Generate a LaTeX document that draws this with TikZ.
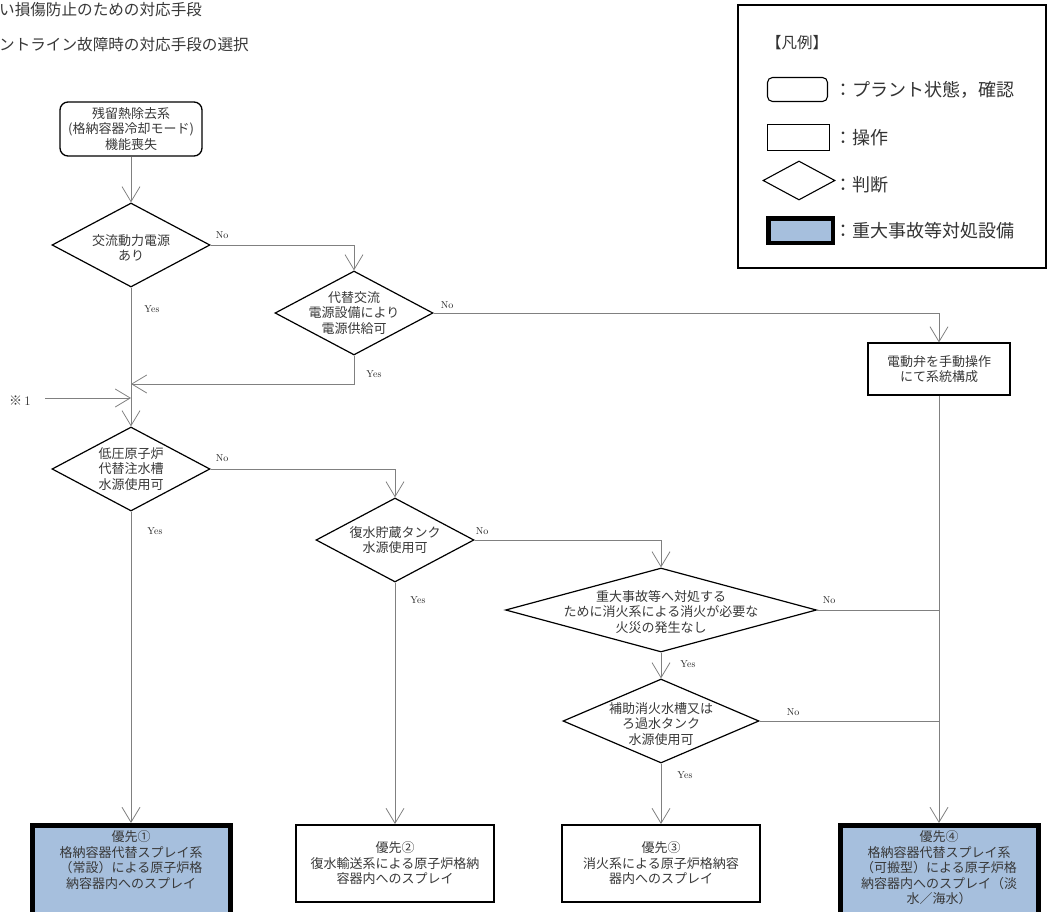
\documentclass[tikz,border=0pt]{standalone}
\usepackage{fontspec}
\newfontfamily\jpfont{Noto Sans CJK JP}
\usetikzlibrary{arrows.meta,shapes.geometric,calc}
\definecolor{safetyblue}{RGB}{166,191,221}
\definecolor{flowgray}{RGB}{128,128,128}

\begin{document}
\begin{tikzpicture}[x=1pt,y=-1pt,
  jp/.style={font=\jpfont\fontsize{13}{15.5}\selectfont,text=black!78,align=center},
  hdr/.style={font=\jpfont\fontsize{15.6}{17}\selectfont,text=black!78,inner sep=0pt,anchor=west},
  lgtext/.style={font=\jpfont\fontsize{18}{20}\selectfont,text=black!80,inner sep=0pt,anchor=west},
  startbox/.style={jp,draw,line width=1.3pt,rounded corners=8pt,minimum width=142pt,minimum height=54pt,inner sep=0pt},
  opbox/.style={jp,draw,line width=1.1pt,minimum width=142pt,minimum height=52pt,inner sep=0pt},
  decide/.style={diamond,draw,line width=1.2pt,inner sep=0pt,minimum width=#1,minimum height=84pt},
  prio/.style={jp,draw,line width=2.4pt,minimum width=197.5pt,minimum height=76.5pt,inner sep=0pt},
  sabox/.style={jp,draw,fill=safetyblue,line width=5pt,minimum width=198pt,inner xsep=0pt,inner ysep=5pt,anchor=north},
  flow/.style={draw=flowgray,line width=0.9pt},
  arr/.style={flow,-{Straight Barb[length=15pt,width=18pt,line width=0.8pt]}},
  yn/.style={font=\fontsize{10}{11}\selectfont,text=black!85,inner sep=0pt},
]
  \useasboundingbox (0,0) rectangle (1049,912);

  % page headings (cut at the left edge)
  \node[hdr] (title1) at (-1,10) {い損傷防止のための対応手段};
  \node[hdr] (title2) at (-1,45) {ントライン故障時の対応手段の選択};

  % legend
  \draw[line width=1.1pt] (738,5) rectangle (1046,268);
  \node[font=\jpfont\fontsize{15.5}{17}\selectfont,text=black!80,inner sep=0pt,anchor=west] (lgtitle) at (766,43) {【凡例】};
  \node[draw,line width=1.1pt,rounded corners=5pt,minimum width=60pt,minimum height=24pt] (lgstate) at (797.5,89.5) {};
  \node[lgtext] (lgstatetxt) at (834,90) {：プラント状態，確認};
  \node[draw,line width=1.1pt,minimum width=62pt,minimum height=26pt] (lgop) at (798.5,137.5) {};
  \node[lgtext] (lgoptxt) at (834,138) {：操作};
  \node[diamond,draw,line width=1.1pt,inner sep=0pt,minimum width=72pt,minimum height=39pt] (lgdec) at (799,180.5) {};
  \node[lgtext] (lgdectxt) at (834,185) {：判断};
  \node[draw,fill=safetyblue,line width=4.5pt,minimum width=64.5pt,minimum height=24.5pt] (lgsa) at (800.5,230.5) {};
  \node[lgtext] (lgsatxt) at (834,231) {：重大事故等対処設備};

  % flow
  \node[startbox] (start) at (131,129) {残留熱除去系\\(格納容器冷却モード)\\機能喪失};
  \node[decide=158pt,label={[jp,yshift=-3pt]center:交流動力電源\\あり}] (d1) at (131,245) {};
  \node[decide=158pt,label={[jp]center:代替交流\\電源設備により\\電源供給可}] (d2) at (354,313) {};
  \node[decide=158pt,label={[jp]center:低圧原子炉\\代替注水槽\\水源使用可}] (d3) at (131,469) {};
  \node[decide=158pt,label={[jp]center:復水貯蔵タンク\\水源使用可}] (d4) at (395,540) {};
  \node[decide=311pt,label={[jp,yshift=-2pt]center:重大事故等へ対処する\\ために消火系による消火が必要な\\火災の発生なし}] (d5) at (661,610) {};
  \node[decide=196pt,label={[jp,yshift=-3pt]center:補助消火水槽又は\\ろ過水タンク\\水源使用可}] (d6) at (661,721) {};
  \node[opbox] (mov) at (939,369) {電動弁を手動操作\\にて系統構成};

  \node[sabox] (p1) at (131,823) {\parbox[t][100pt][t]{190pt}{\centering 優先①\\格納容器代替スプレイ系\\（常設）による原子炉格\\納容器内へのスプレイ}};
  \node[prio] (p2) at (395,863.5) {優先②\\復水輸送系による原子炉格納\\容器内へのスプレイ};
  \node[prio] (p3) at (661,863.5) {優先③\\消火系による原子炉格納容\\器内へのスプレイ};
  \node[sabox] (p4) at (939,823) {\parbox[t][100pt][t]{190pt}{\centering 優先④\\格納容器代替スプレイ系\\（可搬型）による原子炉格\\納容器内へのスプレイ（淡\\水／海水）}};

  \node[font=\fontsize{13}{15}\selectfont,text=black!80,inner sep=0pt,anchor=west] (ref1) at (9,401) {{\jpfont ※}\,1};
  \coordinate (ref1end) at (45,398);
  \coordinate (join) at (131,384);

  \draw[arr] (start.south) -- (d1.north);
  \draw[arr] (d1.east) -| (d2.north);
  \draw[arr] (d2.east) -| (mov.north);
  \draw[arr] (d2.south) |- (join);
  \draw[arr] (ref1end) -- (ref1end -| d1.south);
  \draw[arr] (d1.south) -- (d3.north);
  \draw[arr] (d3.east) -| (d4.north);
  \draw[arr] (d3.south) -- (p1.north);
  \draw[arr] (d4.east) -| (d5.north);
  \draw[arr] (d4.south) -- (p2.north);
  \draw[arr] (d5.south) -- (d6.north);
  \draw[arr] (d6.south) -- (p3.north);
  \draw[arr] (mov.south) -- (p4.north);
  \draw[flow] (d5.east) -- (d5.east -| mov.south);
  \draw[flow] (d6.east) -- (d6.east -| mov.south);

  % Yes / No labels
  \foreach \lab/\px/\py [count=\i] in {No/222/235, Yes/152/309, No/447/305, Yes/374/374,
      No/222/458, Yes/155/531, No/482/531, Yes/418/600, No/829/600, Yes/688/664,
      No/793/712, Yes/685/775}
    \node[yn] (yn\i) at (\px,\py) {\lab};
\end{tikzpicture}
\end{document}
